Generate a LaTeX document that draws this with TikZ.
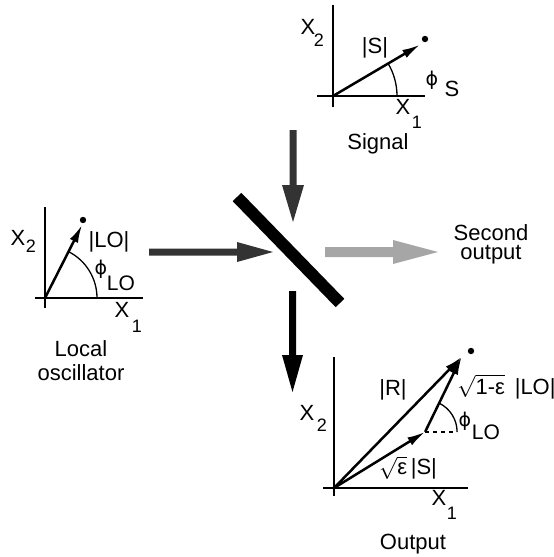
\documentclass[tikz,border=0pt]{standalone}
\usepackage{fontspec}
\setmainfont{Liberation Sans}
\newfontfamily\dvfont{DejaVu Sans}
\newcommand{\myphi}{{\dvfont\fontsize{9.5}{11}\selectfont ϕ}}
\usetikzlibrary{arrows.meta}
\begin{document}
\begin{tikzpicture}[x=0.5pt,y=-0.5pt,
 lbl/.style={inner sep=0pt,font=\fontsize{11}{13}\selectfont},
 sub/.style={inner sep=0pt,font=\fontsize{9}{11}\selectfont},
 axis/.style={line width=0.65pt},
 vec/.style={line width=1.25pt,-{Latex[length=9pt,width=4.5pt]}},
 dotm/.style={circle,fill,inner sep=0pt,minimum size=3.2pt},
 darkarrow/.style={fill=black!80},
 grayarrow/.style={fill=black!35}]
\useasboundingbox (0,0) rectangle (553,557);

% ---------- Signal ----------
\coordinate (sO) at (333,96);
\draw[axis] (333,5) -- (333,107);
\draw[axis] (317,96) -- (425,96);
\draw[vec] (sO) -- ++(-30.5:101) coordinate (sT);
\node[dotm] (sDot) at (425,39) {};
\draw[axis] (sO) ++(64,0) arc[start angle=0,end angle=-30.5,radius=64];
\node[lbl] (sX2) at (308,27) {X};
\node[sub] (sX2s) at (319,40) {2};
\node[lbl] (sS) at (375,48) {|S|};
\node[lbl] (sPhi) at (432,80) {\myphi};
\node[lbl] (sPhiS) at (452,89) {S};
\node[lbl] (sX1) at (403,107) {X};
\node[sub] (sX1s) at (417,122) {1};
\node[lbl] (sig) at (378,144) {Signal};

% ---------- Local oscillator ----------
\coordinate (lO) at (45,298);
\draw[axis] (45,207) -- (45,308);
\draw[axis] (35,298) -- (143,298);
\draw[vec] (lO) -- ++(-63.1:82) coordinate (lT);
\node[dotm] (lDot) at (83,220) {};
\draw[axis] (lO) ++(52,0) arc[start angle=0,end angle=-63,radius=52];
\node[lbl] (lX2) at (18,238) {X};
\node[sub] (lX2s) at (31,246) {2};
\node[lbl] (lLO) at (109,242) {|LO|};
\node[lbl] (lPhi) at (101,269) {\myphi};
\node[sub] (lPhiLO) at (121,283) {\fontsize{10.5}{12}\selectfont LO};
\node[lbl] (lX1) at (122,310) {X};
\node[sub] (lX1s) at (137,326) {1};
\node[lbl] (loc1) at (81,349) {Local};
\node[lbl] (loc2) at (81,373) {oscillator};

% ---------- Beam arrows and splitter ----------
\fill[darkarrow] (289.5,130) -- (296.5,130) -- (296.5,185) -- (304,185) -- (293,222) -- (282,185) -- (289.5,185) -- cycle;
\fill[darkarrow] (149,248.5) -- (237,248.5) -- (237,242) -- (273,252) -- (237,262) -- (237,255.5) -- (149,255.5) -- cycle;
\fill[grayarrow] (325,247) -- (393,247) -- (393,240) -- (438,252) -- (393,264) -- (393,257) -- (325,257) -- cycle;
\fill (289,291) -- (296,291) -- (296,355) -- (303,355) -- (292.5,392) -- (282,355) -- (289,355) -- cycle;
\draw[line width=6pt] (237,197) -- (340,303);
\node[lbl] (sec1) at (491,233) {Second};
\node[lbl] (sec2) at (491,255) {output};

% ---------- Output ----------
\coordinate (oO) at (334,488);
\coordinate (oP) at (425.1,431.9);
\coordinate (oT) at (461.7,356.8);
\draw[axis] (334,357) -- (334,496);
\draw[axis] (323,488) -- (468,488);
\draw[vec] (oO) -- (oP);
\draw[vec] (oP) -- (oT);
\draw[vec] (oO) -- (oT);
\node[dotm] (oDot) at (471,351) {};
\draw[axis,dash pattern=on 2pt off 2pt] (oP) -- ++(32,0);
\draw[axis] (oP) ++(32,0) arc[start angle=0,end angle=-64,radius=32];
\node[lbl] (oR) at (393,390) {|R|};
\node[lbl,anchor=west] (oLO) at (457,387) {$\sqrt{\mbox{1-ε}}$\, |LO|};
\node[lbl] (oPhi) at (465,421) {\myphi};
\node[sub] (oPhiLO) at (486,432) {\fontsize{10.5}{12}\selectfont LO};
\node[lbl] (oS) at (408,468) {$\sqrt{\mbox{ε}}$\,|S|};
\node[lbl] (oX2) at (307,413) {X};
\node[sub] (oX2s) at (322,425) {2};
\node[lbl] (oX1) at (439,498) {X};
\node[sub] (oX1s) at (452,513) {1};
\node[lbl] (out) at (413,544) {Output};
\end{tikzpicture}
\end{document}
